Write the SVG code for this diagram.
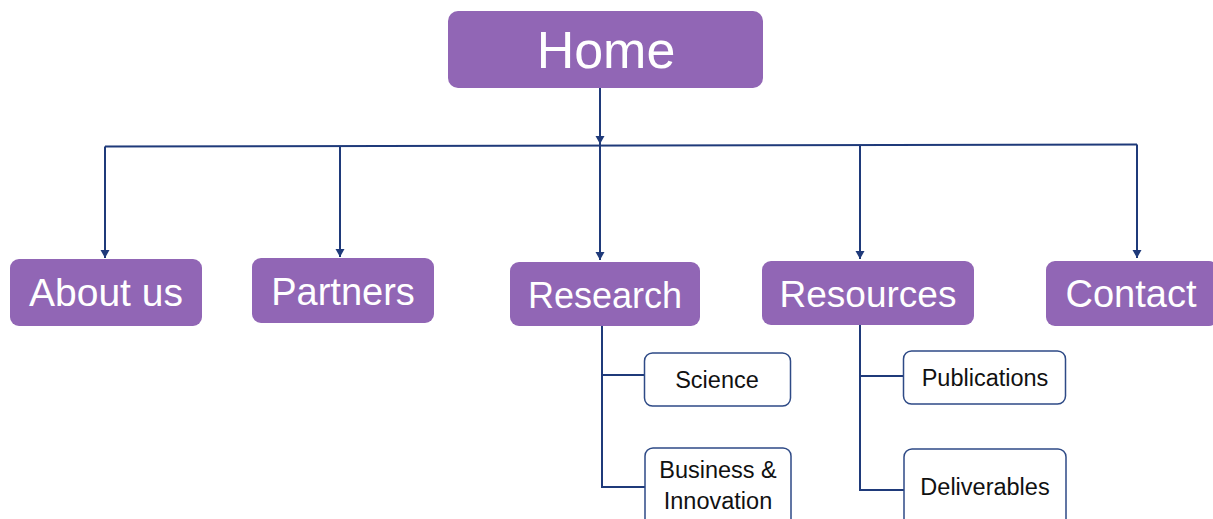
<svg xmlns="http://www.w3.org/2000/svg" width="1213" height="519" viewBox="0 0 1213 519">
<style>
.main{fill:#9166B5;}
.mt{fill:#ffffff;font-family:"Liberation Sans",Arial,sans-serif;text-anchor:middle;}
.sub{fill:#ffffff;stroke:#2E4A86;stroke-width:1.5;}
.st{fill:#111111;font-family:"Liberation Sans",Arial,sans-serif;font-size:23.5px;text-anchor:middle;}
.ln{fill:none;stroke:#1F3A7A;stroke-width:2;}
</style>
<defs>
<marker id="arr" viewBox="0 0 8 12" refX="8" refY="6" markerWidth="8" markerHeight="12" markerUnits="userSpaceOnUse" orient="auto">
<path d="M0,1.5 L8,6 L0,10.5 Z" fill="#1F3A7A"/>
</marker>
</defs>
<rect width="1213" height="519" fill="#ffffff"/>
<g id="connectors">
<path class="ln" d="M600,88 L600,144" marker-end="url(#arr)"/>
<path class="ln" d="M105,146.5 L1137,144.5"/>
<path class="ln" d="M105,146.5 L105,258" marker-end="url(#arr)"/>
<path class="ln" d="M340,146 L340,257" marker-end="url(#arr)"/>
<path class="ln" d="M600,144 L600,260" marker-end="url(#arr)"/>
<path class="ln" d="M860,145 L860,259" marker-end="url(#arr)"/>
<path class="ln" d="M1137,144.5 L1137,258" marker-end="url(#arr)"/>
<path class="ln" d="M602,326 L602,487 L645,487"/>
<path class="ln" d="M602,375 L644,375"/>
<path class="ln" d="M860,325 L860,490 L904,490"/>
<path class="ln" d="M860,376 L903,376"/>
</g>
<g id="home">
<rect class="main" x="448" y="11" width="315" height="77" rx="10"/>
<text class="mt" x="606" y="68" font-size="52">Home</text>
</g>
<g id="about">
<rect class="main" x="10" y="259" width="192" height="67" rx="9"/>
<text class="mt" x="106" y="306" font-size="39">About us</text>
</g>
<g id="partners">
<rect class="main" x="252" y="258" width="182" height="65" rx="9"/>
<text class="mt" x="343" y="305" font-size="38">Partners</text>
</g>
<g id="research">
<rect class="main" x="510" y="262" width="190" height="64" rx="9"/>
<text class="mt" x="605" y="308" font-size="36">Research</text>
</g>
<g id="resources">
<rect class="main" x="762" y="261" width="212" height="64" rx="9"/>
<text class="mt" x="868" y="307" font-size="37">Resources</text>
</g>
<g id="contact">
<rect class="main" x="1046" y="261" width="172" height="65" rx="9"/>
<text class="mt" x="1131" y="307" font-size="38">Contact</text>
</g>
<g id="science">
<rect class="sub" x="644.5" y="353" width="146" height="53" rx="8"/>
<text class="st" x="717" y="388">Science</text>
</g>
<g id="business">
<rect class="sub" x="645" y="448" width="146" height="80" rx="8"/>
<text class="st" x="718" y="478">Business &amp;</text>
<text class="st" x="718" y="509">Innovation</text>
</g>
<g id="publications">
<rect class="sub" x="903.5" y="351" width="162" height="53" rx="8"/>
<text class="st" x="985" y="386">Publications</text>
</g>
<g id="deliverables">
<rect class="sub" x="904" y="449" width="162" height="80" rx="8"/>
<text class="st" x="985" y="495">Deliverables</text>
</g>
</svg>
